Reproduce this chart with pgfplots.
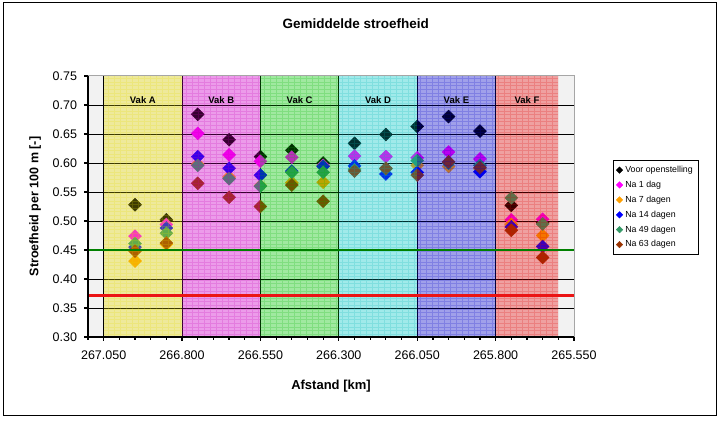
\documentclass[border=0pt]{standalone}
\usepackage{pgfplots}
\usepackage{pgfplotstable}
\pgfplotsset{compat=1.18}
\usepackage{fontspec}
\setmainfont{Liberation Sans}

\definecolor{cVoor}{RGB}{0,0,0}
\definecolor{cOne}{RGB}{255,0,255}
\definecolor{cSeven}{RGB}{255,160,0}
\definecolor{cFourteen}{RGB}{0,0,255}
\definecolor{cFortynine}{RGB}{51,153,102}
\definecolor{cSixtythree}{RGB}{153,51,0}
\definecolor{yB}{RGB}{241,239,213}\definecolor{yC}{RGB}{230,220,0}
\definecolor{mB}{RGB}{250,213,255}\definecolor{mC}{RGB}{200,0,180}
\definecolor{gB}{RGB}{220,253,220}\definecolor{gC}{RGB}{0,180,0}
\definecolor{cB}{RGB}{220,255,255}\definecolor{cC}{RGB}{0,180,180}
\definecolor{bB}{RGB}{220,220,247}\definecolor{bC}{RGB}{0,0,200}
\definecolor{rB}{RGB}{247,220,220}\definecolor{rC}{RGB}{220,0,0}
\definecolor{lineGreen}{RGB}{0,128,0}
\definecolor{lineRed}{RGB}{235,20,20}

\pgfplotstableread{
x       voor   d1     d7     d14    d49    d63
266.95  0.528  0.474  0.431  0.455  0.461  0.448
266.85  0.502  0.494  0.460  0.488  0.479  0.462
266.75  0.684  0.651  0.598  0.611  0.596  0.565
266.65  0.640  0.614  0.576  0.591  0.573  0.541
266.55  0.611  0.603  0.561  0.579  0.560  0.525
266.45  0.622  0.610  0.566  0.586  0.584  0.562
266.35  0.600  0.596  0.567  0.594  0.584  0.534
266.25  0.634  0.612  0.590  0.595  0.588  0.586
266.15  0.649  0.611  0.590  0.581  0.590  0.591
266.05  0.663  0.609  0.596  0.584  0.604  0.579
265.95  0.680  0.619  0.594  0.600  0.600  0.602
265.85  0.655  0.607  0.590  0.585  0.596  0.592
265.75  0.527  0.502  0.494  0.490  0.540  0.484
265.65  0.497  0.503  0.475  0.456  0.495  0.437
}\data

\newcommand{\region}[4]{% from, to, base colour, name
  \fill[#3] (axis cs:#1,0.3) rectangle (axis cs:#2,0.75);
  \coordinate (#4a) at (axis cs:#1,0.3);
  \coordinate (#4b) at (axis cs:#2,0.75);}
\newcommand{\overlay}[2]{% name, overlay colour
  \fill[#2, fill opacity=0.27] (#1a) rectangle (#1b);
  \begin{scope}
  \clip (#1a) rectangle (#1b);
  \draw[#2, opacity=0.2, line width=0.5bp, xstep=6bp, ystep=3.6bp] (#1a) grid (#1b);
  \end{scope}}

\pgfplotsset{common/.style={
  at={(88bp,87bp)}, anchor=south west,
  scale only axis, width=486bp, height=261bp,
  x dir=reverse,
  xmin=265.55, xmax=267.1, ymin=0.3, ymax=0.75}}

\begin{document}
\begin{tikzpicture}
\useasboundingbox (0,0) rectangle (725bp,424bp);
\draw[black, line width=1bp] (3.5bp,8bp) rectangle (716bp,421bp);
\begin{axis}[
  common,
  xtick={265.55,265.8,266.05,266.3,266.55,266.8,267.05},
  minor xtick={265.6,265.65,265.7,265.75,265.85,265.9,265.95,266.0,266.1,266.15,266.2,266.25,266.35,266.4,266.45,266.5,266.6,266.65,266.7,266.75,266.85,266.9,266.95,267.0,267.1},
  ytick={0.3,0.35,0.4,0.45,0.5,0.55,0.6,0.65,0.7,0.75},
  scaled x ticks=false, scaled y ticks=false,
  xticklabel style={/pgf/number format/.cd, fixed, fixed zerofill, precision=3, 1000 sep={}, /tikz/.cd, yshift=-6bp},
  yticklabel style={/pgf/number format/.cd, fixed, fixed zerofill, precision=2, /tikz/.cd, xshift=-3.5bp},
  /pgf/number format/assume math mode=true,
  tick label style={font=\fontsize{12.5bp}{14bp}\selectfont},
  tick align=outside, tick pos=left,
  major tick length=4bp, minor tick length=3bp,
  every tick/.style={black, line width=1.2bp},
  axis line style={draw=none},
  axis background/.style={fill=gray!10},
  title={Gemiddelde stroefheid},
  title style={font=\fontsize{13.5bp}{16bp}\selectfont\bfseries, at={(axis description cs:0.551,1.176)}, anchor=center},
  xlabel={Afstand [km]},
  xlabel style={font=\fontsize{13bp}{15bp}\selectfont\bfseries, at={(axis description cs:0.5,-0.188)}, anchor=center},
  ylabel={Stroefheid per 100 m [-]},
  ylabel style={font=\fontsize{12.5bp}{15bp}\selectfont\bfseries, at={(axis description cs:-0.109,0.5)}, anchor=center, rotate=0},
  legend cell align=left,
  legend style={at={(axis description cs:1.080,0.678)}, anchor=north west,
    draw=black, line width=0.8bp, fill=white,
    font=\fontsize{8.8bp}{10bp}\selectfont,
    nodes={text height=6.5bp, text depth=1.8bp, inner sep=2.5bp},
    row sep=1.6bp, inner xsep=3bp, inner ysep=3bp},
  legend image code/.code={\draw[#1, mark size=2.3bp, line width=0.4bp] plot coordinates {(0bp,0bp)};},
]
% base fills
\region{267.05}{266.8}{yB}{rA}
\region{266.8}{266.55}{mB}{rB}
\region{266.55}{266.3}{gB}{rC}
\region{266.3}{266.05}{cB}{rD}
\region{266.05}{265.8}{bB}{rE}
\region{265.8}{265.6}{rB}{rF}
% grid lines
\pgfplotsinvokeforeach{0.35,0.4,0.45,0.5,0.55,0.6,0.65,0.7}{
  \draw[black, line width=0.9bp] (axis cs:265.55,#1) -- (axis cs:267.1,#1);}
\pgfplotsinvokeforeach{267.05,266.8,266.55,266.3,266.05,265.8}{
  \draw[black, line width=1bp] (axis cs:#1,0.3) -- (axis cs:#1,0.75);}
% markers
\addplot[only marks, mark=square*, mark size=4.6bp, mark options={rotate=45, fill=cVoor, draw=cVoor, line width=0.4bp}] table[x=x,y=voor]{\data};
\addlegendentry{Voor openstelling}
\addplot[only marks, mark=square*, mark size=4.6bp, mark options={rotate=45, fill=cOne, draw=cOne, line width=0.4bp}] table[x=x,y=d1]{\data};
\addlegendentry{Na 1 dag}
\addplot[only marks, mark=square*, mark size=4.6bp, mark options={rotate=45, fill=cSeven, draw=cSeven, line width=0.4bp}] table[x=x,y=d7]{\data};
\addlegendentry{Na 7 dagen}
\addplot[only marks, mark=square*, mark size=4.6bp, mark options={rotate=45, fill=cFourteen, draw=cFourteen, line width=0.4bp}] table[x=x,y=d14]{\data};
\addlegendentry{Na 14 dagen}
\addplot[only marks, mark=square*, mark size=4.6bp, mark options={rotate=45, fill=cFortynine, draw=cFortynine, line width=0.4bp}] table[x=x,y=d49]{\data};
\addlegendentry{Na 49 dagen}
\addplot[only marks, mark=square*, mark size=4.6bp, mark options={rotate=45, fill=cSixtythree, draw=cSixtythree, line width=0.4bp}] table[x=x,y=d63]{\data};
\addlegendentry{Na 63 dagen}
\end{axis}
% translucent overlays over the markers
\overlay{rA}{yC}
\overlay{rB}{mC}
\overlay{rC}{gC}
\overlay{rD}{cC}
\overlay{rE}{bC}
\overlay{rF}{rC}
\begin{axis}[common, hide axis, clip=false]
\addplot[lineGreen, line width=2.6bp] coordinates {(265.55,0.45) (267.1,0.45)};
\addplot[lineRed, line width=2.6bp] coordinates {(265.55,0.372) (267.1,0.372)};
\node[font=\fontsize{9.5bp}{12bp}\selectfont\bfseries] at (axis cs:266.925,0.709) {Vak A};
\node[font=\fontsize{9.5bp}{12bp}\selectfont\bfseries] at (axis cs:266.675,0.709) {Vak B};
\node[font=\fontsize{9.5bp}{12bp}\selectfont\bfseries] at (axis cs:266.425,0.709) {Vak C};
\node[font=\fontsize{9.5bp}{12bp}\selectfont\bfseries] at (axis cs:266.175,0.709) {Vak D};
\node[font=\fontsize{9.5bp}{12bp}\selectfont\bfseries] at (axis cs:265.925,0.709) {Vak E};
\node[font=\fontsize{9.5bp}{12bp}\selectfont\bfseries] at (axis cs:265.7,0.709) {Vak F};
\draw[gray!70, line width=1bp] (axis description cs:0,1) -- (axis description cs:1,1) -- (axis description cs:1,0);
\draw[black, line width=2.4bp] (axis description cs:0,1) -- (axis description cs:0,0) -- (axis description cs:1,0);
\end{axis}
\end{tikzpicture}
\end{document}
